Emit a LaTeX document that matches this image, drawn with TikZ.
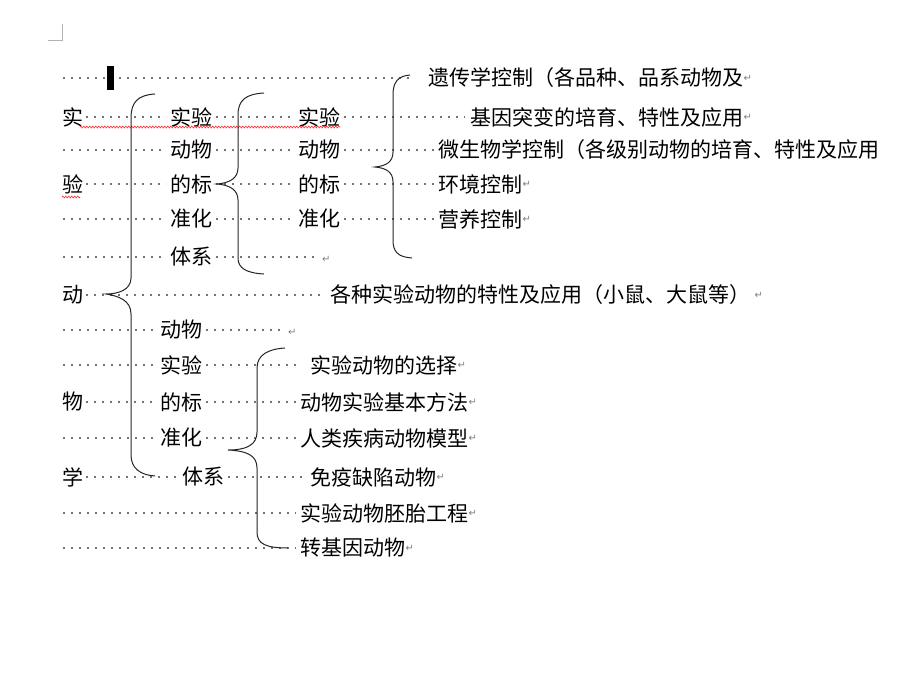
\documentclass[tikz,border=0pt]{standalone}
\usepackage{fontspec}
\setmainfont{Noto Sans CJK SC}
\newfontfamily\symf{DejaVu Sans}
\usetikzlibrary{decorations.pathmorphing}
\begin{document}
\begin{tikzpicture}[x=1pt,y=-1pt,
  t/.style={anchor=west,inner sep=0pt,font=\fontsize{21}{21}\selectfont},
  dl/.style={draw=gray!90!black,line width=1.6pt,dash pattern=on 1.6pt off 6.4pt},
  br/.style={draw=black!85,line width=1pt},
  rm/.style={anchor=west,inner sep=0pt,text=gray,font=\symf\fontsize{10}{10}\selectfont}]
\useasboundingbox[fill=white] (0,0) rectangle (920,690);
\newcommand\dotl[3]{\draw[dl] (#2,#1) -- (#3,#1);}
\draw[gray!60,line width=0.6pt] (48,40) -- (62,40) -- (62,24);
% row0
\dotl{78}{63}{410}
\fill[black] (107,66) rectangle (114,90);
\node[t] (r0) at (428,78) {遗传学控制（各品种、品系动物及};
\node[rm] at (r0.east) {↵};
% row1
\node[t] (a1) at (62,117) {实};
\dotl{117}{86}{166}
\node[t] (b1) at (170,117) {实验};
\dotl{117}{216}{294}
\node[t] (c1) at (298,117) {实验};
\dotl{117}{344}{465}
\node[t] (d1) at (470,117) {基因突变的培育、特性及应用};
\node[rm] at (d1.east) {↵};
\draw[red!80,line width=0.6pt,decorate,decoration={zigzag,amplitude=1pt,segment length=3pt}] (80,127) -- (340,127);
% row2
\dotl{150}{63}{166}
\node[t] (b2) at (170,150) {动物};
\dotl{150}{216}{294}
\node[t] (c2) at (298,150) {动物};
\dotl{150}{344}{435}
\node[t] (d2) at (438,150) {微生物学控制（各级别动物的培育、特性及应用};
% row3
\node[t] (a3) at (62,184) {验};
\draw[red!80,line width=0.6pt,decorate,decoration={zigzag,amplitude=1pt,segment length=3pt}] (62,197) -- (80,197);
\dotl{184}{86}{166}
\node[t] (b3) at (170,184) {的标};
\dotl{184}{216}{294}
\node[t] (c3) at (298,184) {的标};
\dotl{184}{344}{435}
\node[t] (d3) at (438,184) {环境控制};
\node[rm] at (d3.east) {↵};
% row4
\dotl{219}{63}{166}
\node[t] (b4) at (170,219) {准化};
\dotl{219}{216}{294}
\node[t] (c4) at (298,219) {准化};
\dotl{219}{344}{435}
\node[t] (d4) at (438,219) {营养控制};
\node[rm] at (d4.east) {↵};
% row5
\dotl{257}{63}{166}
\node[t] (b5) at (170,257) {体系};
\dotl{257}{216}{318}
\node[rm] (e5) at (322,259) {↵};
% row6
\node[t] (a6) at (62,295) {动};
\dotl{295}{86}{322}
\node[t] (d6) at (330,295) {各种实验动物的特性及应用（小鼠、大鼠等）};
\node[rm] at ([xshift=4pt]d6.east) {↵};
% row7
\dotl{330}{63}{156}
\node[t] (b7) at (160,330) {动物};
\dotl{330}{206}{284}
\node[rm] (e7) at (288,332) {↵};
% row8
\dotl{365}{63}{156}
\node[t] (b8) at (160,365) {实验};
\dotl{365}{206}{300}
\node[t] (d8) at (310,365) {实验动物的选择};
\node[rm] at (d8.east) {↵};
% row9
\node[t] (a9) at (62,402) {物};
\dotl{402}{86}{156}
\node[t] (b9) at (160,402) {的标};
\dotl{402}{206}{296}
\node[t] (d9) at (300,402) {动物实验基本方法};
\node[rm] at (d9.east) {↵};
% row10
\dotl{438}{63}{156}
\node[t] (b10) at (160,438) {准化};
\dotl{438}{206}{296}
\node[t] (d10) at (300,438) {人类疾病动物模型};
\node[rm] at (d10.east) {↵};
% row11
\node[t] (a11) at (62,477) {学};
\dotl{477}{86}{178}
\node[t] (b11) at (182,477) {体系};
\dotl{477}{228}{305}
\node[t] (d11) at (310,477) {免疫缺陷动物};
\node[rm] at (d11.east) {↵};
% row12
\dotl{513}{63}{296}
\node[t] (d12) at (300,513) {实验动物胚胎工程};
\node[rm] at (d12.east) {↵};
% row13
\dotl{548}{63}{296}
\node[t] (d13) at (300,548) {转基因动物};
\node[rm] at (d13.east) {↵};
% braces
\draw[br] (155,94) .. controls (138,95) and (131,102) .. (131,118) -- (131,278)
  .. controls (131,290) and (118,294) .. (106,294)
  .. controls (118,296) and (131,300) .. (131,314) -- (131,455)
  .. controls (131,468) and (140,475) .. (155,476);
\draw[br] (264,93) .. controls (246,94) and (238,100) .. (238,115) -- (238,168)
  .. controls (238,178) and (230,183) .. (217,184)
  .. controls (230,185) and (238,190) .. (238,200) -- (238,258)
  .. controls (238,268) and (246,273) .. (264,274);
\draw[br] (410,75) .. controls (398,76) and (393,82) .. (393,95) -- (393,152)
  .. controls (393,162) and (386,166) .. (375,167)
  .. controls (386,168) and (393,172) .. (393,182) -- (393,240)
  .. controls (393,252) and (398,257) .. (412,258);
\draw[br] (285,348) .. controls (268,349) and (257,355) .. (257,368) -- (257,432)
  .. controls (257,444) and (248,450) .. (228,450)
  .. controls (248,451) and (257,456) .. (257,468) -- (257,532)
  .. controls (257,544) and (266,548) .. (288,548);
\end{tikzpicture}
\end{document}
